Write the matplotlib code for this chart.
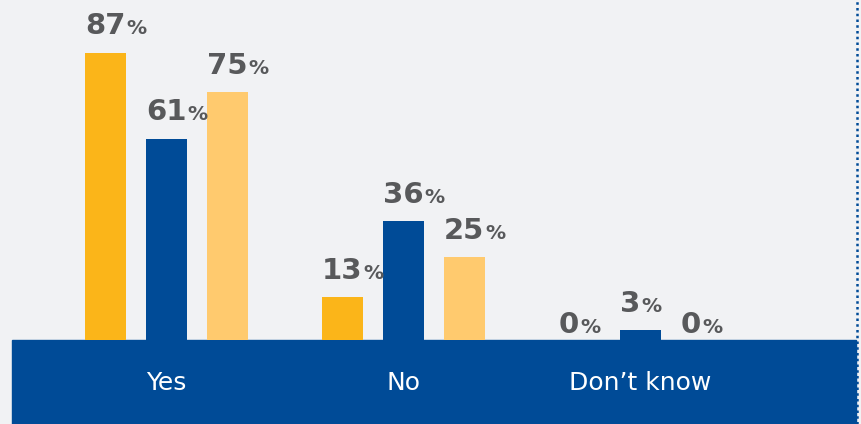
import numpy as np
from matplotlib import pyplot as plt
from matplotlib.offsetbox import TextArea, HPacker, AnnotationBbox

categories = ["Yes", "No", "Don\u2019t know"]
series_a = [87, 13, 0]
series_b = [61, 36, 3]
series_c = [75, 25, 0]

colors = ["#FBB519", "#004B97", "#FFCA6E"]
bg = "#F1F2F4"
label_grey = "#58595B"

fig = plt.figure(figsize=(8.62, 4.24), dpi=100)
fig.patch.set_facecolor(bg)
ax = fig.add_axes([0, 0, 1, 1])
ax.set_facecolor(bg)

x = np.arange(len(categories))
width = 0.173
step = 0.2574

ax.set_xlim(-0.7025, 2.9346)
ax.set_ylim(-25.45, 103)

# blue band holding the category names
ax.axhspan(-30, 0, xmin=12 / 862, xmax=856 / 862, color="#004B97", zorder=1)
ax.plot([857 / 862] * 2, [0, 1], transform=ax.transAxes, color="#004B97",
        linewidth=1.8, linestyle=(0, (1, 1.3)), zorder=3)

for k, (vals, col) in enumerate(zip([series_a, series_b, series_c], colors)):
    pos = x + (k - 1) * step
    ax.bar(pos, vals, width=width, color=col, zorder=2)
    for p, v in zip(pos, vals):
        num = TextArea(str(v), textprops=dict(fontsize=21, fontweight="bold",
                                              color=label_grey, family="DejaVu Sans"))
        pct = TextArea("%", textprops=dict(fontsize=14.5, fontweight="bold",
                                           color=label_grey, family="DejaVu Sans"))
        box = HPacker(children=[num, pct], align="baseline", pad=0, sep=0.5)
        lift = 9 if v > 0 else 1
        ab = AnnotationBbox(box, (p - width / 2, v), xybox=(0, lift),
                            xycoords="data", boxcoords="offset points",
                            box_alignment=(0, 0), frameon=False, zorder=4)
        ax.add_artist(ab)

for i, c in enumerate(categories):
    ax.text(x[i], -13, c, color="white", fontsize=18, ha="center", va="center",
            zorder=4)

ax.axis("off")
fig.savefig("out.png", dpi=100, facecolor=bg)
